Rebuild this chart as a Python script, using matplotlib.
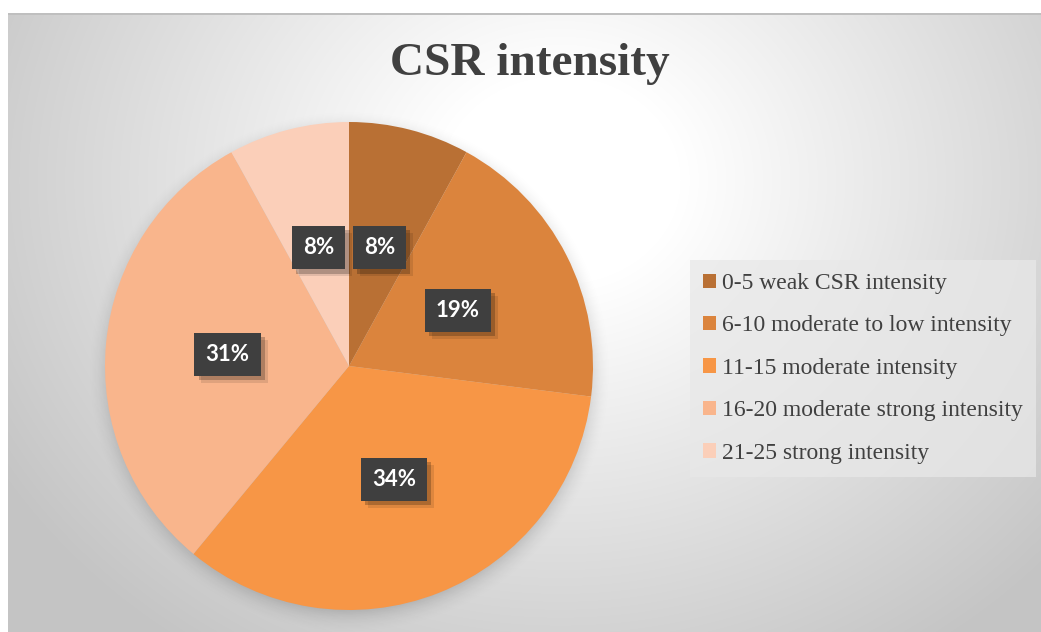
import numpy as np
import matplotlib
matplotlib.use("Agg")
import matplotlib.pyplot as plt
import matplotlib.patheffects as pe

# ---- data ----
categories = ["0-5 weak CSR intensity",
              "6-10 moderate to low intensity",
              "11-15 moderate intensity",
              "16-20 moderate strong intensity",
              "21-25 strong intensity"]
shares = [8, 19, 34, 31, 8]
colors = ["#B97034", "#DB843D", "#F79646", "#F9B58C", "#FBCFB9"]
title = "CSR intensity"

W, H = 1041, 632
fig = plt.figure(figsize=(W / 100, H / 100), dpi=100)

# ---- background: radial gradient ----
yy, xx = np.mgrid[0:H, 0:W]
d = np.sqrt(((xx - 560) / 600.0) ** 2 + ((yy - 180) / 520.0) ** 2)
t = np.clip((d - 0.2) / 0.9, 0, 1)
v = (255 - (255 - 196) * t) / 255.0
img = np.dstack([v, v, v])
img[:13, :, :] = 1.0
img[:, :8, :] = 1.0
img[13:15, 8:, :] = 0.75
bg = fig.add_axes([0, 0, 1, 1])
bg.imshow(img, aspect="auto", interpolation="bilinear", extent=(0, W, H, 0))
bg.set_axis_off()

# ---- pie ----
cx, cy, r = 349, 366, 244
L = 1.3
ax = fig.add_axes([(cx - L * r) / W, (H - cy - L * r) / H,
                   2 * L * r / W, 2 * L * r / H])

# soft shadow beneath the pie
n = 700
g = np.linspace(-L, L, n)
gx, gy = np.meshgrid(g, g)
dist = np.sqrt(gx ** 2 + (gy + 0.025) ** 2)
alpha = np.clip(1 - (dist - 0.96) / 0.12, 0, 1) ** 2 * 0.2
sh = np.zeros((n, n, 4))
sh[..., 3] = alpha
ax.imshow(sh, extent=(-L, L, -L, L), origin="lower", zorder=0,
          interpolation="bilinear")

wedges, texts, autotexts = ax.pie(
    shares, colors=colors, startangle=90, counterclock=False,
    autopct="%.0f%%", pctdistance=0.5, radius=1,
    wedgeprops=dict(linewidth=0))
for w in wedges:
    w.set_zorder(2)
ax.set_xlim(-L, L)
ax.set_ylim(-L, L)
ax.set_aspect("equal")
ax.set_axis_off()

for at in autotexts:
    at.set_fontfamily("Lato")
    at.set_fontweight("bold")
    at.set_fontsize(16)
    at.set_color("white")
    at.set_zorder(5)
    at.set_bbox(dict(boxstyle="square,pad=0.5", facecolor="#3F3F3F",
                     edgecolor="none"))
    at.get_bbox_patch().set_path_effects([
        pe.SimplePatchShadow(offset=(3, -3), shadow_rgbFace="black", alpha=0.22),
        pe.SimplePatchShadow(offset=(5, -5), shadow_rgbFace="black", alpha=0.1),
        pe.Normal()])

# ---- title ----
fig.text(530 / W, 1 - 64 / H, title, ha="center", va="center",
         fontsize=34, fontweight="bold", family="Liberation Serif",
         color="#404040")

# ---- legend ----
leg = fig.legend(wedges, categories, loc="upper left",
                 bbox_to_anchor=(690 / W, 1 - 260 / H),
                 frameon=True, fancybox=False,
                 prop=dict(family="Liberation Serif", size=17),
                 labelcolor="#404040", handlelength=0.55, handleheight=0.55,
                 handletextpad=0.25, labelspacing=0.91, borderpad=0.55,
                 borderaxespad=0)
frame = leg.get_frame()
frame.set_facecolor("#E8E8E8")
frame.set_alpha(0.75)
frame.set_edgecolor("none")

fig.savefig("out.png", dpi=100)
